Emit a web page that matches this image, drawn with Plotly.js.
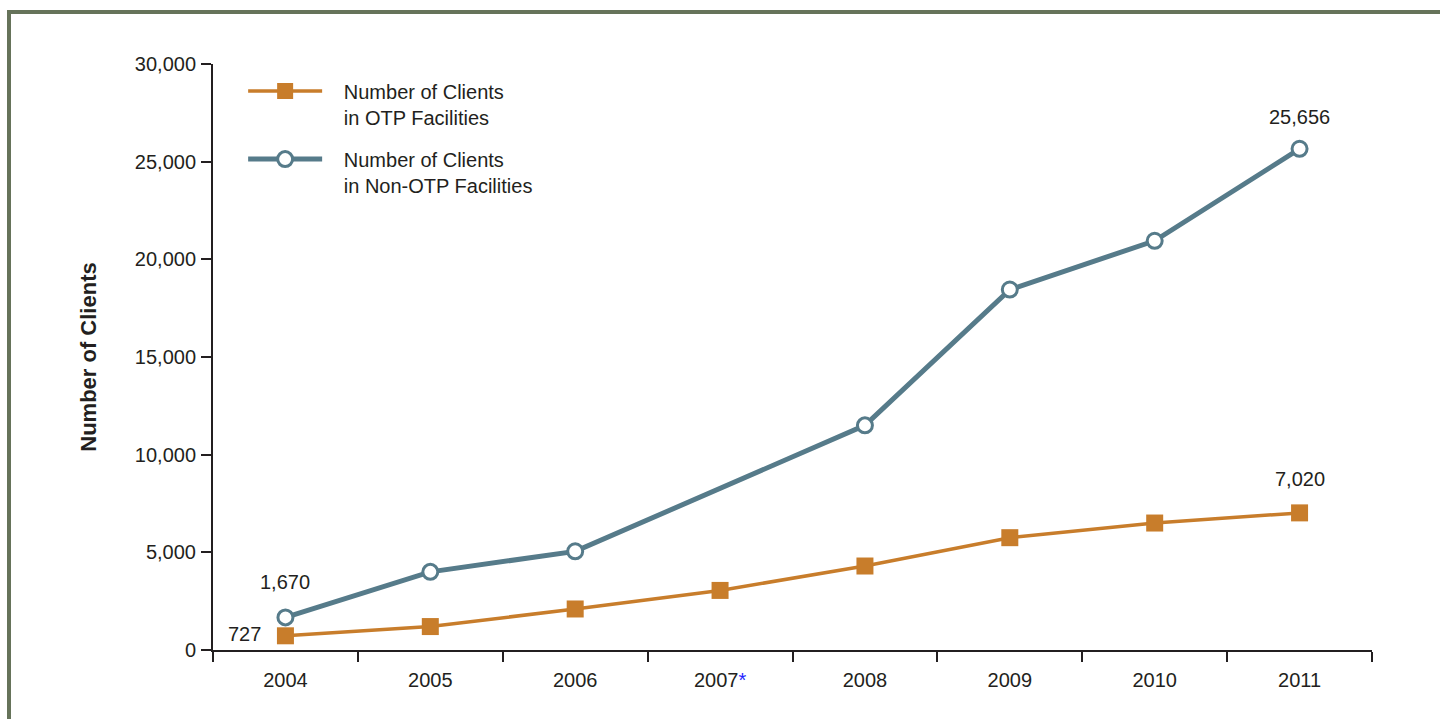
<!DOCTYPE html>
<html>
<head>
<meta charset="utf-8">
<script src="https://cdn.plot.ly/plotly-3.0.1.min.js"></script>
<style>
  html, body { margin: 0; padding: 0; background: #ffffff; }
  #chart { position: absolute; left: 0; top: 0; width: 1440px; height: 719px; }
  #frame { position: absolute; left: 7px; top: 10px; right: 0; bottom: 0;
           border-left: 4px solid #66735a; border-top: 4px solid #66735a;
           pointer-events: none; }
</style>
</head>
<body>
<div id="chart"></div>
<div id="frame"></div>
<script>
// ---- data ----
const years = ["2004", "2005", "2006", "2007", "2008", "2009", "2010", "2011"];
const yearLabels = ["2004", "2005", "2006", "2007<span style='color:#1f1fff'>*</span>", "2008", "2009", "2010", "2011"];
const otpClients = [727, 1200, 2100, 3050, 4300, 5750, 6500, 7020];
const nonOtpClients = [1670, 4000, 5050, null, 11500, 18450, 20950, 25656];
const otpName = "Number of Clients<br>in OTP Facilities";
const nonOtpName = "Number of Clients<br>in Non-OTP Facilities";
const yTickValues = [0, 5000, 10000, 15000, 20000, 25000, 30000];

const FONT = "'Liberation Sans', Arial, sans-serif";
const INK = "#231f20";
const ORANGE = "#c87d2b";
const BLUE = "#567b8a";

const fmt = v => String(v).replace(/\B(?=(\d{3})+(?!\d))/g, ",");
const pad = s => s.split("<br>").map(l => "\u00a0\u00a0\u00a0" + l).join("<br>");

const traces = [
  {
    type: "scatter", mode: "lines+markers", name: pad(otpName),
    x: years, y: otpClients, legendgroup: "otp",
    line: { color: ORANGE, width: 3.5 },
    marker: { symbol: "square", size: 17, color: ORANGE, line: { width: 0 } },
    hoverinfo: "x+y"
  },
  {
    type: "scatter", mode: "lines+markers", name: pad(nonOtpName),
    x: years, y: nonOtpClients, connectgaps: true, legendgroup: "non",
    line: { color: BLUE, width: 5 },
    marker: { symbol: "circle", size: 15, color: "#ffffff", line: { color: BLUE, width: 3 } },
    hoverinfo: "x+y"
  }
];

const lastIdx = years.length - 1;
const annFont = () => ({ family: FONT, size: 20, color: INK });
const annotations = [
  { xref: "x", yref: "y", x: lastIdx, y: nonOtpClients[lastIdx], text: fmt(nonOtpClients[lastIdx]),
    showarrow: false, xanchor: "center", yanchor: "bottom", yshift: 19, font: annFont() },
  { xref: "x", yref: "y", x: lastIdx, y: otpClients[lastIdx], text: fmt(otpClients[lastIdx]),
    showarrow: false, xanchor: "center", yanchor: "bottom", yshift: 21, font: annFont() },
  { xref: "x", yref: "y", x: 0, y: nonOtpClients[0], text: fmt(nonOtpClients[0]),
    showarrow: false, xanchor: "center", yanchor: "bottom", yshift: 22, font: annFont() },
  { xref: "x", yref: "y", x: 0, y: otpClients[0], text: fmt(otpClients[0]),
    showarrow: false, xanchor: "right", yanchor: "middle", xshift: -22, yshift: 2, font: annFont() }
];

const layout = {
  width: 1440, height: 719,
  margin: { l: 213, r: 68, t: 64, b: 69, pad: 0 },
  paper_bgcolor: "#ffffff", plot_bgcolor: "#ffffff",
  font: { family: FONT, size: 20, color: INK },
  showlegend: true,
  legend: {
    x: 0.026, y: 0.987, xanchor: "left", yanchor: "top",
    bgcolor: "rgba(0,0,0,0)", borderwidth: 0,
    font: { family: FONT, size: 20, color: INK },
    valign: "top", itemwidth: 74, tracegroupgap: 13,
    traceorder: "grouped"
  },
  xaxis: {
    type: "category", range: [-0.5, 7.5],
    tickvals: years, ticktext: yearLabels,
    tickson: "boundaries",
    ticks: "outside", ticklen: 10, tickwidth: 2, tickcolor: INK,
    showline: true, linecolor: INK, linewidth: 2,
    showgrid: false, zeroline: false,
    tickfont: { family: FONT, size: 20, color: INK },
    ticklabelstandoff: 11
  },
  yaxis: {
    range: [0, 30000], tickvals: yTickValues, tickformat: ",",
    ticks: "outside", ticklen: 10, tickwidth: 2, tickcolor: INK,
    showline: true, linecolor: INK, linewidth: 2,
    showgrid: false, zeroline: false,
    tickfont: { family: FONT, size: 20, color: INK },
    ticklabelstandoff: 1,
    title: { text: "<b>Number of Clients</b>", font: { family: FONT, size: 22, color: INK }, standoff: 32 }
  },
  annotations: annotations
};

Plotly.newPlot("chart", traces, layout, { displayModeBar: false, staticPlot: true });
</script>
</body>
</html>
